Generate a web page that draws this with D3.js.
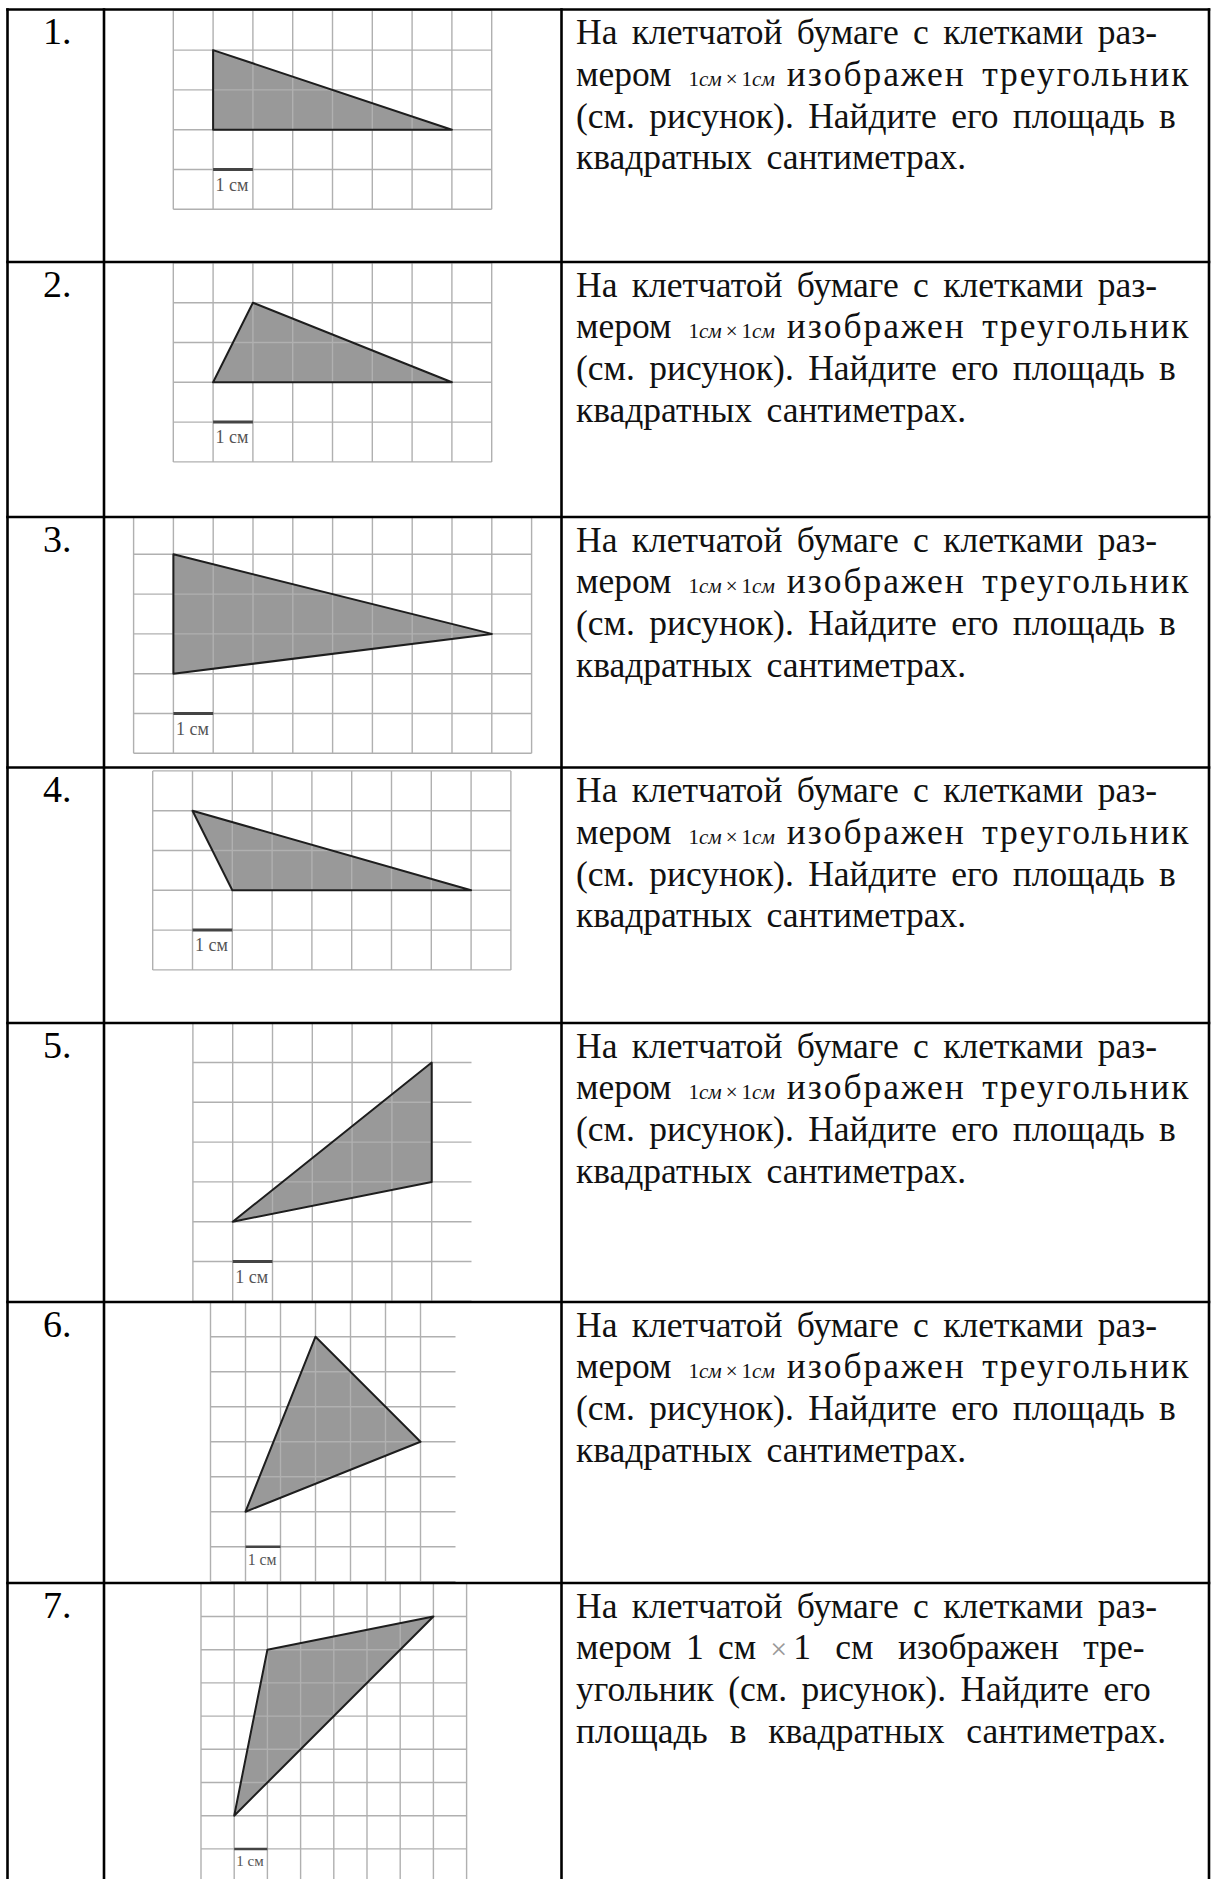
<!DOCTYPE html>
<html>
<head>
<meta charset="utf-8">
<script src="https://cdn.jsdelivr.net/npm/d3@7"></script>
<style>
  body { margin: 0; background: #fff; }
  svg text { font-family: "Liberation Serif", "Times New Roman", serif; }
</style>
</head>
<body>
<div id="sheet"></div>
<script>
// task numbers
var rowLabels = ["1.", "2.", "3.", "4.", "5.", "6.", "7."];

// grid size of each drawing, in cells
var gridCols = [8, 8, 10, 9, 7, 7, 8];
var gridRows = [5, 5, 6, 5, 7, 8, 9];

// triangle vertices in grid cells (col, row)
var triangles = [
    [[1, 1], [1, 3], [7, 3]],
    [[2, 1], [1, 3], [7, 3]],
    [[1, 1], [1, 4], [9, 3]],
    [[1, 1], [2, 3], [8, 3]],
    [[6, 1], [6, 4], [1, 5]],
    [[3, 1], [6, 4], [1, 6]],
    [[7, 1], [2, 2], [1, 7]]
];

// grid line the "1 см" bar sits on
var scaleBarRow = [4, 4, 5, 4, 6, 7, 8];
var scaleLabel = "1 см";

var questionA = [
    "На клетчатой бумаге с клетками раз-",
    "мером",
    "(см. рисунок). Найдите его площадь в",
    "квадратных сантиметрах."
];
var questionB = [
    "На клетчатой бумаге с клетками раз-",
    "мером 1 см",
    "угольник (см. рисунок). Найдите его",
    "площадь в квадратных сантиметрах."
];

// ---- layout ----
var width = 1213, height = 1879;
var colX = [7.5, 104, 561.5, 1209];
var rowTops = [9.5, 262, 517, 767.5, 1023, 1302, 1583, 1890];
var gridX0 = [173.3, 173.3, 133.6, 152.7, 192.9, 210.5, 201];
var gridY0 = [10.3, 262.9, 514.5, 770.9, 1022.7, 1301.7, 1583.3];
var cellSize = [39.8, 39.8, 39.8, 39.8, 39.8, 35, 33.2];
var rightEdge = [true, true, true, true, false, false, true];

var svg = d3.select("#sheet")
    .append("svg")
    .attr("width", width)
    .attr("height", height);

var defs = svg.append("defs");

rowLabels.forEach(function (lab, i) {
    var top = rowTops[i], bottom = rowTops[i + 1];
    var cols = gridCols[i], rows = gridRows[i], c = cellSize[i];

    var x = d3.scaleLinear().domain([0, cols]).range([gridX0[i], gridX0[i] + cols * c]);
    var y = d3.scaleLinear().domain([0, rows]).range([gridY0[i], gridY0[i] + rows * c]);
    var tri = function (d) {
        return "M" + d.map(function (p) { return x(p[0]) + "," + y(p[1]); }).join("L") + "Z";
    };

    defs.append("clipPath").attr("id", "clip" + i)
        .append("rect")
        .attr("x", colX[1]).attr("y", top)
        .attr("width", colX[2] - colX[1]).attr("height", bottom - top);

    var g = svg.append("g").attr("clip-path", "url(#clip" + i + ")");

    // triangle first, grid shows through it
    g.append("path").datum(triangles[i])
        .attr("d", tri)
        .attr("fill", "#000")
        .attr("fill-opacity", 0.4);

    var vx = d3.range(0, rightEdge[i] ? cols + 1 : cols);
    g.selectAll(".v").data(vx).enter().append("line")
        .attr("x1", function (d) { return x(d); })
        .attr("x2", function (d) { return x(d); })
        .attr("y1", y(0)).attr("y2", y(rows))
        .attr("stroke", "#b0b0b0").attr("stroke-width", 1.4);

    g.selectAll(".h").data(d3.range(0, rows + 1)).enter().append("line")
        .attr("y1", function (d) { return y(d); })
        .attr("y2", function (d) { return y(d); })
        .attr("x1", x(0)).attr("x2", x(cols))
        .attr("stroke", "#b0b0b0").attr("stroke-width", 1.4);

    g.append("path").datum(triangles[i])
        .attr("d", tri)
        .attr("fill", "none")
        .attr("stroke", "#1e1e1e")
        .attr("stroke-width", 2)
        .attr("stroke-linejoin", "round");

    // 1 cm bar
    var k = c / 39.8;
    g.append("line")
        .attr("x1", x(1)).attr("x2", x(2))
        .attr("y1", y(scaleBarRow[i])).attr("y2", y(scaleBarRow[i]))
        .attr("stroke", "#444").attr("stroke-width", 3 * k);
    g.append("text")
        .attr("x", x(1) + 2.5 * k)
        .attr("y", y(scaleBarRow[i]) + 21 * k)
        .attr("font-size", 18 * k)
        .attr("fill", "#555")
        .text(scaleLabel);

    // number
    svg.append("text")
        .attr("x", 43).attr("y", top + 34.5)
        .attr("font-size", 38)
        .text(lab);

    // question text
    var lines = i < 6 ? questionA : questionB;
    lines.forEach(function (ln, j) {
        var t = svg.append("text")
            .attr("x", 576)
            .attr("y", top + 34.5 + j * 41.8)
            .attr("font-size", 35.5)
            .attr("word-spacing", (i === 6 && j === 3) ? 13 : 5.5)
            .attr("fill", "#111");
        if (j !== 1) { t.text(ln); return; }
        t.append("tspan").text(ln);
        if (i < 6) {
            t.append("tspan").attr("font-size", 21).attr("dx", 17).text("1");
            t.append("tspan").attr("font-size", 21).attr("font-style", "italic").text("см");
            t.append("tspan").attr("font-size", 21).attr("dx", 4).text("×");
            t.append("tspan").attr("font-size", 21).attr("dx", 4).text("1");
            t.append("tspan").attr("font-size", 21).attr("font-style", "italic").text("см");
            t.append("tspan").attr("dx", 12).attr("letter-spacing", 2).text("изображен треугольник");
        } else {
            t.append("tspan").attr("font-size", 30).attr("fill", "#999").attr("dx", 14).text("×");
            t.append("tspan").attr("dx", 6).attr("word-spacing", 15.5).text("1 см изображен тре-");
        }
    });
});

// table rules
var tbl = svg.append("g").attr("stroke", "#000").attr("stroke-width", 2.6);
tbl.selectAll(".vr").data(colX).enter().append("line")
    .attr("x1", function (d) { return d; }).attr("x2", function (d) { return d; })
    .attr("y1", rowTops[0] - 1.3).attr("y2", height);
tbl.selectAll(".hr").data(rowTops.slice(0, 7)).enter().append("line")
    .attr("y1", function (d) { return d; }).attr("y2", function (d) { return d; })
    .attr("x1", colX[0] - 1.3).attr("x2", colX[3] + 1.3);
</script>
</body>
</html>
